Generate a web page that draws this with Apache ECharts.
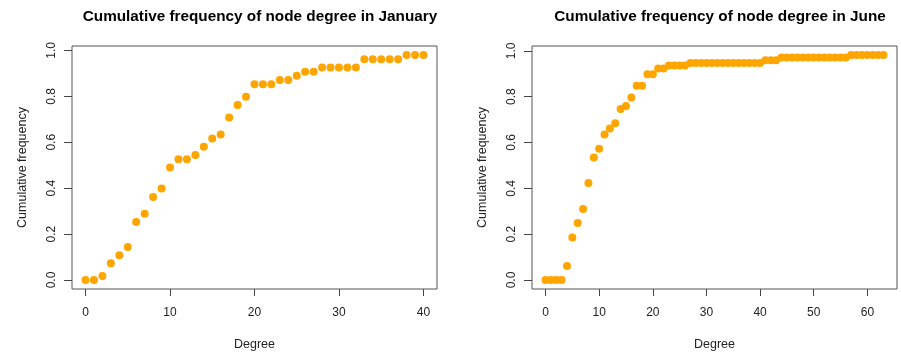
<!DOCTYPE html>
<html>
<head>
<meta charset="utf-8">
<script src="https://cdn.jsdelivr.net/npm/echarts@6/dist/echarts.min.js"></script>
<style>
  html, body { margin: 0; padding: 0; background: #fff; }
  #chart { width: 901px; height: 354px; }
</style>
</head>
<body>
<div id="chart"></div>
<script>
const janDegree = [];
for (let i = 0; i <= 40; i += 1) janDegree.push(i);
const janFreq = [
  0, 0, 0.017, 0.073, 0.108, 0.144, 0.253, 0.289, 0.362, 0.398,
  0.490, 0.526, 0.526, 0.544, 0.580, 0.616, 0.634, 0.708, 0.762, 0.798,
  0.853, 0.853, 0.853, 0.871, 0.871, 0.890, 0.907, 0.907, 0.926, 0.926,
  0.926, 0.926, 0.926, 0.961, 0.961, 0.961, 0.961, 0.961, 0.980, 0.980,
  0.980,
];

const junDegree = [];
for (let i = 0; i <= 63; i += 1) junDegree.push(i);
const junFreq = [
  0, 0, 0, 0, 0.061, 0.186, 0.249, 0.310, 0.423, 0.535,
  0.573, 0.635, 0.661, 0.684, 0.746, 0.759, 0.797, 0.848, 0.848, 0.898,
  0.898, 0.923, 0.923, 0.936, 0.936, 0.936, 0.936, 0.947, 0.947, 0.947,
  0.947, 0.947, 0.947, 0.947, 0.947, 0.947, 0.947, 0.947, 0.947, 0.947,
  0.947, 0.959, 0.959, 0.959, 0.971, 0.971, 0.971, 0.971, 0.971, 0.971,
  0.971, 0.971, 0.971, 0.971, 0.971, 0.971, 0.971, 0.982, 0.982, 0.982,
  0.982, 0.982, 0.982, 0.982,
];

const titles = ["Cumulative frequency of node degree in January", "Cumulative frequency of node degree in June"];
const janXTicks = [0, 10, 20, 30, 40];
const junXTicks = [0, 10, 20, 30, 40, 50, 60];
const yTicks = [0, 0.2, 0.4, 0.6, 0.8, 1.0];

const font = "Liberation Sans";
const textColor = "#222";
const dotColor = "#ffa500";

// R style: pad the range by 4% on each side
function padded(lo, hi) {
  const d = (hi - lo) * 0.04;
  return { min: lo - d, max: hi + d };
}

function xAxisFor(gridIndex, degrees, ticks) {
  const r = padded(degrees[0], degrees[degrees.length - 1]);
  return {
    type: "value",
    gridIndex,
    min: r.min,
    max: r.max,
    name: "Degree",
    nameLocation: "middle",
    nameGap: 49,
    nameTextStyle: { fontFamily: font, fontSize: 12.5, color: textColor },
    axisLine: { show: false, onZero: false },
    splitLine: { show: false },
    axisTick: { show: true, inside: false, length: 7, customValues: ticks, lineStyle: { color: "#444" } },
    axisLabel: {
      customValues: ticks,
      fontFamily: font,
      fontSize: 12,
      color: textColor,
      margin: 18,
      formatter: (v) => String(Math.round(v)),
    },
  };
}

function yAxisFor(gridIndex, freq) {
  const r = padded(0, Math.max(...freq));
  return {
    type: "value",
    gridIndex,
    min: r.min,
    max: r.max,
    name: "Cumulative frequency",
    nameLocation: "middle",
    nameRotate: 90,
    nameGap: 43,
    nameTextStyle: { fontFamily: font, fontSize: 12.5, color: textColor },
    axisLine: { show: false, onZero: false },
    splitLine: { show: false },
    axisTick: { show: true, inside: false, length: 8, customValues: yTicks, lineStyle: { color: "#444" } },
    axisLabel: {
      customValues: yTicks,
      rotate: 90,
      fontFamily: font,
      fontSize: 12,
      color: textColor,
      margin: 14,
      formatter: (v) => v.toFixed(1),
    },
  };
}

const gridBase = {
  top: 46,
  width: 365,
  height: 243,
  show: true,
  borderColor: "#555",
  borderWidth: 1,
  backgroundColor: "transparent",
  containLabel: false,
  outerBoundsMode: "none",
};

const chart = echarts.init(document.getElementById("chart"));
chart.setOption({
  animation: false,
  backgroundColor: "#fff",
  title: [
    {
      text: titles[0],
      left: 255,
      textAlign: "center",
      top: 4,
      textStyle: { fontFamily: font, fontSize: 15.3, fontWeight: "bold", color: "#000" },
    },
    {
      text: titles[1],
      left: 715,
      textAlign: "center",
      top: 4,
      textStyle: { fontFamily: font, fontSize: 15.3, fontWeight: "bold", color: "#000" },
    },
  ],
  grid: [
    Object.assign({ left: 72 }, gridBase),
    Object.assign({ left: 532 }, gridBase),
  ],
  xAxis: [xAxisFor(0, janDegree, janXTicks), xAxisFor(1, junDegree, junXTicks)],
  yAxis: [yAxisFor(0, janFreq), yAxisFor(1, junFreq)],
  series: [
    {
      type: "scatter",
      xAxisIndex: 0,
      yAxisIndex: 0,
      symbolSize: 8,
      itemStyle: { color: dotColor, opacity: 1 },
      data: janDegree.map((d, i) => [d, janFreq[i]]),
    },
    {
      type: "scatter",
      xAxisIndex: 1,
      yAxisIndex: 1,
      symbolSize: 8,
      itemStyle: { color: dotColor, opacity: 1 },
      data: junDegree.map((d, i) => [d, junFreq[i]]),
    },
  ],
});
</script>
</body>
</html>
